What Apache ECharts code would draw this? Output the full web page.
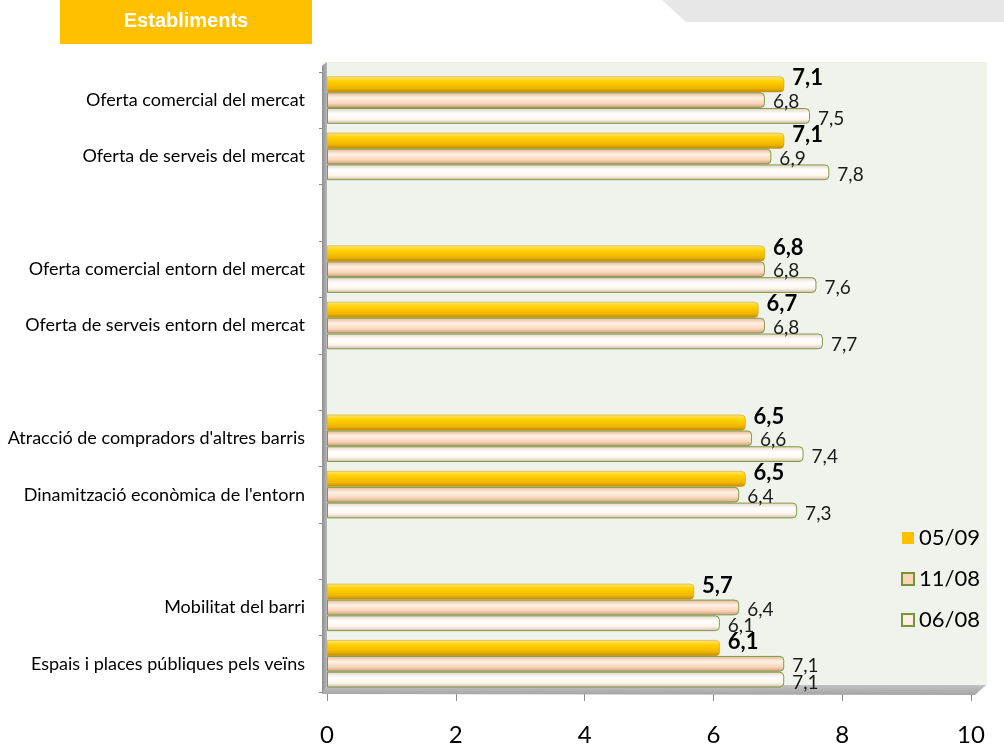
<!DOCTYPE html>
<html>
<head>
<meta charset="utf-8">
<script src="https://cdn.jsdelivr.net/npm/echarts@6/dist/echarts.min.js"></script>
<style>
  html, body { margin: 0; padding: 0; background: #ffffff; }
  #chart { width: 1004px; height: 749px; }
</style>
</head>
<body>
<div id="chart"></div>
<script>
// Categories (empty entries are spacer rows between the groups)
const categories = [
  'Oferta comercial del mercat',
  'Oferta de serveis del mercat',
  '',
  'Oferta comercial entorn del mercat',
  'Oferta de serveis entorn del mercat',
  '',
  "Atracció de compradors d'altres barris",
  "Dinamització econòmica de l'entorn",
  '',
  'Mobilitat del barri',
  'Espais i places públiques pels veïns'
];

// Survey waves
const waveNames = ['05/09', '11/08', '06/08'];

// Scores per wave
const scores0509 = [7.1, 7.1, null, 6.8, 6.7, null, 6.5, 6.5, null, 5.7, 6.1];
const scores1108 = [6.8, 6.9, null, 6.8, 6.8, null, 6.6, 6.4, null, 6.4, 7.1];
const scores0608 = [7.5, 7.8, null, 7.6, 7.7, null, 7.4, 7.3, null, 6.1, 7.1];

// Value axis
const axisMin = 0;
const axisMax = 10;
const axisStep = 2;

const FONT = 'Lato, "Open Sans", sans-serif';
const G = echarts.graphic.LinearGradient;

const fmt = p => (p.value == null ? '' : Number(p.value).toFixed(1).replace('.', ','));

const goldFill = new G(0, 0, 0, 1, [
  { offset: 0, color: '#FFE680' },
  { offset: 0.3, color: '#FFD200' },
  { offset: 0.75, color: '#F0B400' },
  { offset: 1, color: '#B98800' }
]);
const peachFill = new G(0, 0, 0, 1, [
  { offset: 0, color: '#E6B390' },
  { offset: 0.35, color: '#FFF1E4' },
  { offset: 0.7, color: '#FAD6BA' },
  { offset: 1, color: '#CC987A' }
]);
const creamFill = new G(0, 0, 0, 1, [
  { offset: 0, color: '#E3D2C4' },
  { offset: 0.35, color: '#FFFFFF' },
  { offset: 0.7, color: '#FFF7EE' },
  { offset: 1, color: '#CFB8A6' }
]);

const chart = echarts.init(document.getElementById('chart'), null, { renderer: 'canvas' });

chart.setOption({
  animation: false,
  backgroundColor: '#ffffff',
  grid: { left: 327, right: 33, top: 72, bottom: 57, containLabel: false },
  graphic: [
    // header tab
    { type: 'rect', z: 0, shape: { x: 60, y: 0, width: 252, height: 44 }, style: { fill: '#FFC000' } },
    { type: 'text', z: 1, style: { x: 186, y: 21, text: 'Establiments', fill: '#ffffff',
        font: 'bold 20px "Liberation Sans", Arial, sans-serif', align: 'center', verticalAlign: 'middle' } },
    { type: 'polygon', z: 0, shape: { points: [[662, 0], [1004, 0], [1004, 22], [686, 22]] }, style: { fill: '#E7E7E7' } },
    // plot back wall
    { type: 'rect', z: -1, shape: { x: 323, y: 62, width: 664, height: 625 }, style: { fill: '#F0F3EB' } },
    // left side wall
    { type: 'polygon', z: 1, shape: { points: [[322, 66], [327, 62], [327, 690], [322, 694]] },
      style: { fill: new G(1, 0, 0, 0, [{ offset: 0, color: '#B8B8B8' }, { offset: 1, color: '#8E8E8E' }]) } },
    // floor
    { type: 'polygon', z: 1, shape: { points: [[322, 694], [327, 685], [986, 685], [975, 695]] },
      style: { fill: new G(0, 0, 0, 1, [{ offset: 0, color: '#C2C2C2' }, { offset: 1, color: '#A4A4A4' }]) } }
  ],
  legend: {
    orient: 'vertical',
    left: 896,
    top: 522,
    itemWidth: 12,
    itemHeight: 12,
    itemGap: 19,
    icon: 'rect',
    textStyle: { fontFamily: FONT, fontSize: 22, color: '#000' },
    data: [
      { name: waveNames[0], itemStyle: { color: '#FFC000', borderWidth: 0 } },
      { name: waveNames[1], itemStyle: { color: '#FCD5B5', borderColor: '#77933C', borderWidth: 2 } },
      { name: waveNames[2], itemStyle: { color: '#FDEFE6', borderColor: '#77933C', borderWidth: 2 } }
    ]
  },
  xAxis: {
    type: 'value',
    min: axisMin,
    max: axisMax,
    interval: axisStep,
    axisLine: { show: false },
    axisTick: { show: true, length: 9, lineStyle: { color: '#8A8A8A' } },
    splitLine: { show: false },
    axisLabel: { fontFamily: FONT, fontSize: 24, color: '#000', margin: 31 }
  },
  yAxis: {
    type: 'category',
    inverse: true,
    data: categories,
    axisLine: { show: false },
    axisTick: { show: true, length: 8, lineStyle: { color: '#8A8A8A' } },
    axisLabel: { fontFamily: FONT, fontSize: 18, color: '#000', margin: 22 }
  },
  series: [
    {
      name: waveNames[0], type: 'bar', data: scores0509,
      barGap: '0%', barCategoryGap: '16%',
      itemStyle: { color: goldFill, borderColor: '#C89A00', borderWidth: 0.5, borderRadius: [0, 4, 4, 0] },
      label: { show: true, position: 'right', distance: 8, offset: [0, -6], formatter: fmt,
        fontFamily: FONT, fontSize: 22, fontWeight: 'bold', color: '#000' }
    },
    {
      name: waveNames[1], type: 'bar', data: scores1108,
      barGap: '0%', barCategoryGap: '16%',
      itemStyle: { color: peachFill, borderColor: '#7E9B47', borderWidth: 1, borderRadius: [0, 4, 4, 0] },
      label: { show: true, position: 'right', distance: 8, offset: [0, 2], formatter: fmt,
        fontFamily: FONT, fontSize: 19, color: '#1a1a1a' }
    },
    {
      name: waveNames[2], type: 'bar', data: scores0608,
      barGap: '0%', barCategoryGap: '16%',
      itemStyle: { color: creamFill, borderColor: '#7E9B47', borderWidth: 1, borderRadius: [0, 4, 4, 0] },
      label: { show: true, position: 'right', distance: 8, offset: [0, 3], formatter: fmt,
        fontFamily: FONT, fontSize: 19, color: '#1a1a1a' }
    }
  ]
});
</script>
</body>
</html>
